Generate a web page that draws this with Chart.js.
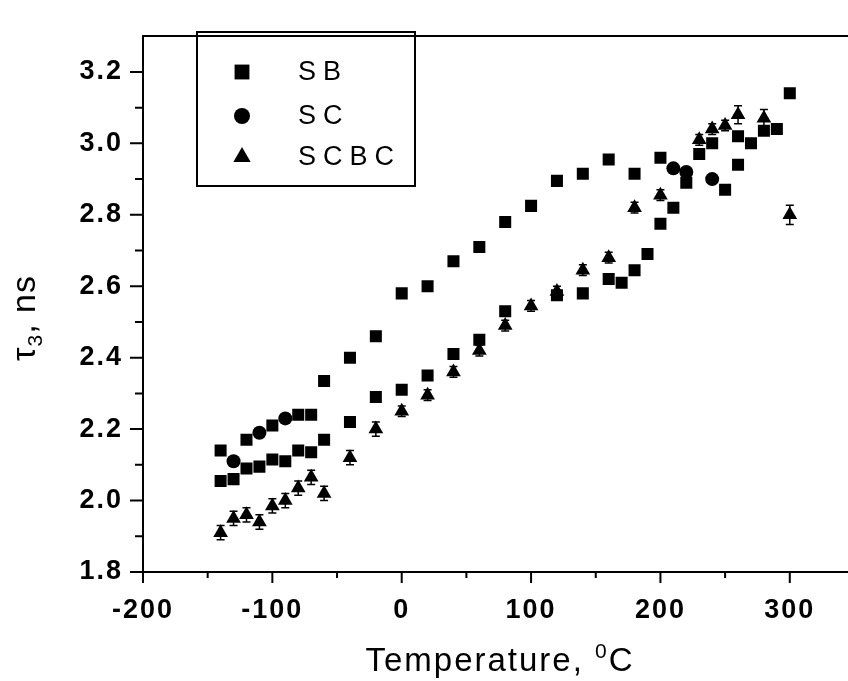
<!DOCTYPE html>
<html>
<head>
<meta charset="utf-8">
<script src="https://cdn.jsdelivr.net/npm/chart.js@4/dist/chart.umd.min.js"></script>
<style>
html,body{margin:0;padding:0;background:#fff;overflow:hidden}
canvas{display:block}
</style>
</head>
<body>
<canvas id="c" width="848" height="681"></canvas>
<script>
// ---- data ----
const seriesNames = ['SB', 'SC', 'SCBC'];
const xTickLabels = [-200, -100, 0, 100, 200, 300];
const yTickLabels = [1.8, 2.0, 2.2, 2.4, 2.6, 2.8, 3.0, 3.2];

const sbX = [-140,-140,-130,-120,-120,-110,-100,-100,-90,-80,-80,-70,-70,-60,-60,-40,-40,-20,-20,0,0,20,20,40,40,60,60,80,80,100,120,120,140,140,160,160,170,180,180,190,200,200,210,220,230,240,250,260,260,270,280,290,300];
const sbY = [2.14,2.055,2.06,2.17,2.09,2.095,2.21,2.115,2.11,2.24,2.14,2.24,2.135,2.335,2.17,2.40,2.22,2.46,2.29,2.58,2.31,2.60,2.35,2.67,2.41,2.71,2.45,2.78,2.53,2.825,2.895,2.575,2.915,2.58,2.955,2.62,2.61,2.915,2.645,2.69,2.96,2.775,2.82,2.89,2.97,3.00,2.87,2.94,3.02,3.00,3.035,3.04,3.14];

const scX = [-130,-110,-90,210,220,240];
const scY = [2.11,2.19,2.23,2.93,2.92,2.90];

const scbcX = [-140,-130,-120,-110,-100,-90,-80,-70,-60,-40,-20,0,20,40,60,80,100,120,140,160,180,200,230,240,250,260,280,300];
const scbcY = [1.91,1.95,1.96,1.94,1.985,2.00,2.035,2.065,2.02,2.12,2.20,2.25,2.295,2.36,2.42,2.49,2.545,2.585,2.645,2.68,2.82,2.855,3.01,3.04,3.05,3.08,3.07,2.80];
const scbcErr = [0.02,0.02,0.02,0.02,0.02,0.02,0.02,0.02,0.02,0.02,0.02,0.015,0.015,0.015,0.015,0.015,0.015,0.015,0.015,0.015,0.015,0.015,0.015,0.015,0.015,0.025,0.025,0.027];

const toPts = (xs, ys) => xs.map((x, i) => ({x: x, y: ys[i]}));

const FAMILY = '"Liberation Sans", Arial, Helvetica, sans-serif';

function withMinor(major) {
  const out = [];
  for (let i = 0; i < major.length; i++) {
    out.push({value: major[i]});
    if (i < major.length - 1) out.push({value: +((major[i] + major[i + 1]) / 2).toFixed(4)});
  }
  return out;
}
const isMajor = (arr, v) => arr.some(a => Math.abs(a - v) < 1e-6);

const spacingPlugin = {
  id: 'spacing',
  beforeUpdate(chart) { chart.ctx.letterSpacing = '2px'; },
  beforeDraw(chart) { chart.ctx.letterSpacing = '2px'; }
};

const errorBars = {
  id: 'errorBars',
  afterDatasetsDraw(chart) {
    const ctx = chart.ctx, xs = chart.scales.x, ys = chart.scales.y;
    ctx.save();
    ctx.strokeStyle = '#000';
    ctx.lineWidth = 1.5;
    scbcX.forEach((x, i) => {
      const e = scbcErr[i];
      if (!e) return;
      const px = xs.getPixelForValue(x);
      const y1 = ys.getPixelForValue(scbcY[i] - e);
      const y2 = ys.getPixelForValue(scbcY[i] + e);
      ctx.beginPath();
      ctx.moveTo(px, y1); ctx.lineTo(px, y2);
      ctx.moveTo(px - 4, y1); ctx.lineTo(px + 4, y1);
      ctx.moveTo(px - 4, y2); ctx.lineTo(px + 4, y2);
      ctx.stroke();
    });
    ctx.restore();
  }
};

const decor = {
  id: 'decor',
  afterDraw(chart) {
    const ctx = chart.ctx, xs = chart.scales.x, ys = chart.scales.y, ca = chart.chartArea;
    ctx.save();
    ctx.strokeStyle = '#000';
    ctx.fillStyle = '#000';
    ctx.lineWidth = 2;
    // tick marks (major / minor)
    ctx.beginPath();
    xs.ticks.forEach(t => {
      const px = xs.getPixelForValue(t.value);
      const len = isMajor(xTickLabels, t.value) ? 11 : 6;
      ctx.moveTo(px, ca.bottom); ctx.lineTo(px, ca.bottom + len);
    });
    ys.ticks.forEach(t => {
      const py = ys.getPixelForValue(t.value);
      const len = isMajor(yTickLabels, t.value) ? 13 : 8;
      ctx.moveTo(ca.left, py); ctx.lineTo(ca.left - len, py);
    });
    ctx.stroke();

    // legend box
    ctx.lineWidth = 2;
    ctx.strokeRect(197, 32, 218, 154);
    const ly = [72, 116, 157];
    const ds = chart.data.datasets;
    ds.forEach((d, i) => {
      Chart.helpers.drawPoint(ctx, {pointStyle: d.pointStyle, radius: d.legendRadius, borderWidth: 0, rotation: 0}, 242, ly[i]);
    });
    ctx.letterSpacing = '7px';
    ctx.font = '27px ' + FAMILY;
    ctx.textBaseline = 'middle';
    ctx.textAlign = 'left';
    seriesNames.forEach((n, i) => ctx.fillText(n, 298, ly[i] + 1));

    // x axis title: Temperature, °C (superscript 0)
    ctx.textBaseline = 'alphabetic';
    ctx.letterSpacing = '2px';
    const big = '33px ' + FAMILY, small = '21px ' + FAMILY;
    ctx.font = big;
    const a = 'Temperature, ';
    const wa = ctx.measureText(a).width;
    const wc = ctx.measureText('C').width;
    ctx.font = small;
    const w0 = ctx.measureText('0').width;
    const total = wa + w0 + wc;
    let sx = 500 - total / 2;
    const by = 671;
    ctx.font = big; ctx.fillText(a, sx, by); sx += wa;
    ctx.font = small; ctx.fillText('0', sx, by - 13); sx += w0;
    ctx.font = big; ctx.fillText('C', sx, by);

    // y axis title: τ3, ns (subscript 3), rotated
    ctx.save();
    ctx.translate(35, 318);
    ctx.rotate(-Math.PI / 2);
    ctx.letterSpacing = '1px';
    ctx.font = '34px ' + FAMILY;
    const wt = ctx.measureText('τ').width;
    const wr = ctx.measureText(', ns').width;
    ctx.font = small;
    const w3 = ctx.measureText('3').width;
    let tx = -(wt + w3 + wr) / 2;
    ctx.font = '34px ' + FAMILY; ctx.fillText('τ', tx, 0); tx += wt;
    ctx.font = small; ctx.fillText('3', tx, 7); tx += w3;
    ctx.font = '34px ' + FAMILY; ctx.fillText(', ns', tx, 0);
    ctx.restore();

    ctx.restore();
  }
};

const tickFont = {family: FAMILY, size: 27, weight: 'bold'};

new Chart(document.getElementById('c'), {
  type: 'scatter',
  data: {
    datasets: [
      {label: seriesNames[0], data: toPts(sbX, sbY), pointStyle: 'rect', pointRadius: 8.5, legendRadius: 10.5,
       backgroundColor: '#000', borderColor: '#000', borderWidth: 0},
      {label: seriesNames[1], data: toPts(scX, scY), pointStyle: 'circle', pointRadius: 7, legendRadius: 8,
       backgroundColor: '#000', borderColor: '#000', borderWidth: 0},
      {label: seriesNames[2], data: toPts(scbcX, scbcY), pointStyle: 'triangle', pointRadius: 8.5, legendRadius: 10,
       backgroundColor: '#000', borderColor: '#000', borderWidth: 0}
    ]
  },
  options: {
    responsive: false,
    animation: false,
    devicePixelRatio: 1,
    layout: {autoPadding: false, padding: {top: 14, left: 0, right: 0, bottom: 0}},
    plugins: {legend: {display: false}, tooltip: {enabled: false}},
    scales: {
      x: {
        type: 'linear', position: 'bottom', min: -200, max: 345,
        afterBuildTicks: s => { s.ticks = withMinor(xTickLabels); },
        afterFit: s => { s.height = 109; s.paddingRight = 0; },
        grid: {display: false, drawTicks: false},
        border: {display: true, color: '#000', width: 2},
        ticks: {
          autoSkip: false, maxRotation: 0, padding: 22, color: '#000', font: tickFont,
          callback: v => isMajor(xTickLabels, v) ? String(v) : ''
        }
      },
      x2: {
        type: 'linear', position: 'top', min: -200, max: 345,
        afterFit: s => { s.height = 0; },
        grid: {display: false, drawTicks: false},
        border: {display: true, color: '#000', width: 2},
        ticks: {display: false}
      },
      y: {
        type: 'linear', position: 'left', min: 1.8, max: 3.3,
        afterBuildTicks: s => { s.ticks = withMinor(yTickLabels); },
        afterFit: s => { s.width = 143; },
        grid: {display: false, drawTicks: false},
        border: {display: true, color: '#000', width: 2},
        ticks: {
          autoSkip: false, padding: 20, color: '#000', font: tickFont,
          callback: v => isMajor(yTickLabels, v) ? v.toFixed(1) : ''
        }
      }
    }
  },
  plugins: [spacingPlugin, errorBars, decor]
});
</script>
</body>
</html>
